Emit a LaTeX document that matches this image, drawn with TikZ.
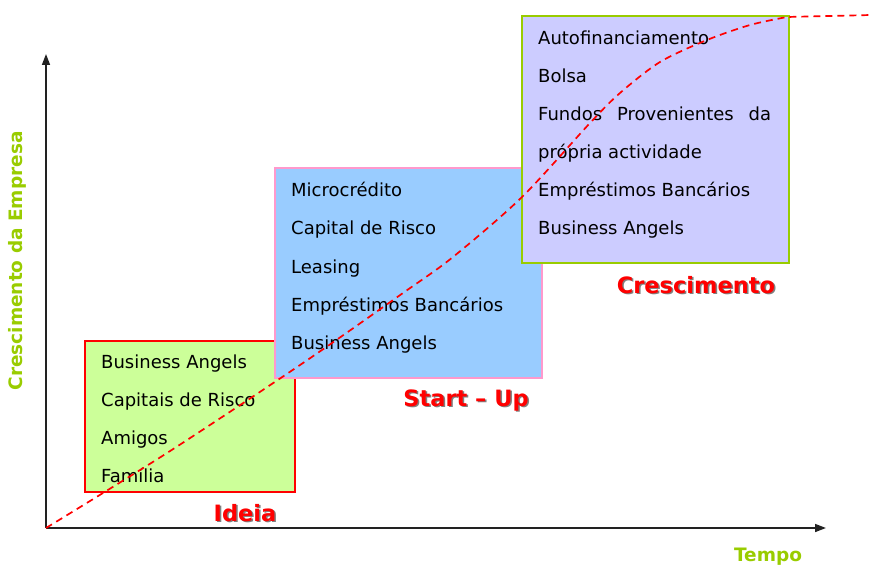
\documentclass[tikz,border=0pt]{standalone}
\usepackage{fontspec}
\setmainfont{DejaVu Sans}
\usetikzlibrary{arrows.meta}
\definecolor{ideiafill}{HTML}{CCFF99}
\definecolor{startfill}{HTML}{99CCFF}
\definecolor{startline}{HTML}{FF99CC}
\definecolor{crescfill}{HTML}{CCCCFF}
\definecolor{limegreen}{HTML}{99CC00}
\definecolor{axisgray}{HTML}{222222}
\tikzset{
  stagebox/.style={draw, line width=1.8pt, minimum width=#1, anchor=north west, inner sep=0pt},
  item/.style={anchor=base west, inner sep=0pt, font=\fontsize{18}{18}\selectfont, text=black},
  stagelabel/.style={anchor=center, inner sep=0pt, font=\bfseries\fontsize{22.5}{22.5}\selectfont, text=red},
  labelshadow/.style={anchor=center, inner sep=0pt, font=\bfseries\fontsize{22.5}{22.5}\selectfont, text=black!50},
  axislabel/.style={inner sep=0pt, font=\bfseries\fontsize{18.5}{18.5}\selectfont, text=limegreen},
  axis/.style={draw=axisgray, line width=1.6pt, -{Triangle[length=11pt,width=8pt]}},
  growth/.style={draw=red, line width=1.7pt, dash pattern=on 7pt off 5pt}
}
\begin{document}
\begin{tikzpicture}[x=1pt, y=-1pt]
\useasboundingbox (0,0) rectangle (871,567);

% axes
\coordinate (O) at (46,528);
\coordinate (ytip) at (46,54);
\coordinate (xtip) at (826,528);
\draw[axis] (O) -- (ytip);
\draw[axis] (O) -- (xtip);
\node[axislabel, rotate=90] (ylab) at (17,261) {Crescimento da Empresa};
\node[axislabel] (xlab) at (768,557) {Tempo};

% stage boxes
\node[stagebox=210pt, minimum height=151pt, fill=ideiafill, draw=red] (ideia) at (84,340) {};
\node[stagebox=267pt, minimum height=210pt, fill=startfill, draw=startline] (startup) at (274,167) {};
\node[stagebox=267pt, minimum height=247pt, fill=crescfill, draw=limegreen] (cresc) at (521,15) {};

% Ideia items
\node[item] (i1) at (101,368.5) {Business Angels};
\node[item] (i2) at (101,406.5) {Capitais de Risco};
\node[item] (i3) at (101,444.5) {Amigos};
\node[item] (i4) at (101,482.5) {Família};

% Start-Up items
\node[item] (s1) at (291,196.5) {Microcrédito};
\node[item] (s2) at (291,235) {Capital de Risco};
\node[item] (s3) at (291,273.5) {Leasing};
\node[item] (s4) at (291,311.5) {Empréstimos Bancários};
\node[item] (s5) at (291,349.5) {Business Angels};

% Crescimento items
\node[item] (c1) at (538,44.5) {Autofinanciamento};
\node[item] (c2) at (538,82.5) {Bolsa};
\node[item] (c3) at (538,120.5) {\makebox[233pt][s]{Fundos Provenientes da}};
\node[item] (c4) at (538,158.5) {própria actividade};
\node[item] (c5) at (538,196.5) {Empréstimos Bancários};
\node[item] (c6) at (538,235) {Business Angels};

% stage names
\node[labelshadow] at (246.5,514.5) {Ideia};
\node[stagelabel] (lideia) at (245,513) {Ideia};
\node[labelshadow] at (467.5,401.5) {Start – Up};
\node[stagelabel] (lstart) at (466,400) {Start – Up};
\node[labelshadow] at (697.5,286.5) {Crescimento};
\node[stagelabel] (lcresc) at (696,285) {Crescimento};

% growth curve
\coordinate (end) at (871,15);
\draw[growth] plot[smooth, tension=0.5] coordinates {
  (O) (167,453) (303,363) (403,293) (453,257) (522,197) (590,123)
  (620,93) (660,62) (707,40) (750,25) (787,17) } -- (end);
\end{tikzpicture}
\end{document}
